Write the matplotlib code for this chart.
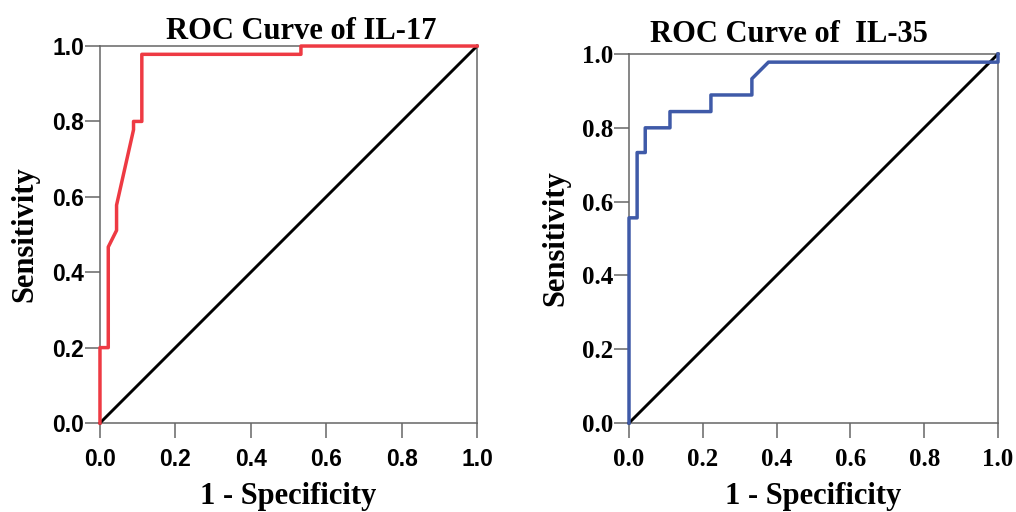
import numpy as np
import matplotlib.pyplot as plt

# IL-17 ROC
fpr17 = [0.0, 0.0, 0.022, 0.022, 0.044, 0.044, 0.089, 0.089, 0.111, 0.111, 0.533, 0.533, 1.0]
tpr17 = [0.0, 0.2, 0.2, 0.467, 0.511, 0.578, 0.778, 0.8, 0.8, 0.978, 0.978, 1.0, 1.0]

# IL-35 ROC
fpr35 = [0.0, 0.0, 0.022, 0.022, 0.044, 0.044, 0.111, 0.111, 0.222, 0.222, 0.333, 0.333, 0.378, 1.0, 1.0]
tpr35 = [0.0, 0.556, 0.556, 0.733, 0.733, 0.8, 0.8, 0.844, 0.844, 0.889, 0.889, 0.933, 0.978, 0.978, 1.0]

ticks = [0.0, 0.2, 0.4, 0.6, 0.8, 1.0]
tickLabels = ["0.0", "0.2", "0.4", "0.6", "0.8", "1.0"]

serif = "Liberation Serif"
sans = "Liberation Sans"
spineCol = "#666666"

fig = plt.figure(figsize=(10.16, 5.12), dpi=100)

axL = fig.add_axes([0.0984, 0.1738, 0.3711, 0.7363])
axR = fig.add_axes([0.6191, 0.1738, 0.3632, 0.7207])


def styleAx(ax, tickFont, tickWeight, tickSize):
  ax.set_xlim(0, 1)
  ax.set_ylim(0, 1)
  ax.set_xticks(ticks)
  ax.set_yticks(ticks)
  ax.set_xticklabels(tickLabels, fontfamily=tickFont, fontweight=tickWeight, fontsize=tickSize)
  ax.set_yticklabels(tickLabels, fontfamily=tickFont, fontweight=tickWeight, fontsize=tickSize)
  ax.tick_params(direction="out", length=11, width=1.1, color=spineCol)
  ax.tick_params(axis="x", pad=7)
  ax.tick_params(axis="y", pad=0.5)
  for s in ax.spines.values():
    s.set_color(spineCol)
    s.set_linewidth(1.1)
  ax.plot([0, 1], [0, 1], color="black", lw=2.1, clip_on=False, zorder=3)


styleAx(axL, sans, "bold", 16.5)
axL.plot(fpr17, tpr17, color="#ee3a43", lw=2.5, clip_on=False, zorder=4)
axL.set_title("ROC Curve of IL-17", fontfamily=serif, fontweight="bold", fontsize=22, x=0.533, pad=3)
axL.set_xlabel("1 - Specificity", fontfamily=serif, fontweight="bold", fontsize=22, labelpad=8)
axL.set_ylabel("Sensitivity", fontfamily=serif, fontweight="bold", fontsize=22, labelpad=9)

styleAx(axR, serif, "bold", 18)
axR.plot(fpr35, tpr35, color="#3f5aa8", lw=2.5, clip_on=False, zorder=4)
axR.set_title("ROC Curve of  IL-35", fontfamily=serif, fontweight="bold", fontsize=22, x=0.434, pad=9)
axR.set_xlabel("1 - Specificity", fontfamily=serif, fontweight="bold", fontsize=22, labelpad=8)
axR.set_ylabel("Sensitivity", fontfamily=serif, fontweight="bold", fontsize=22, labelpad=8)

fig.savefig("out.png", dpi=100)
plt.close()
